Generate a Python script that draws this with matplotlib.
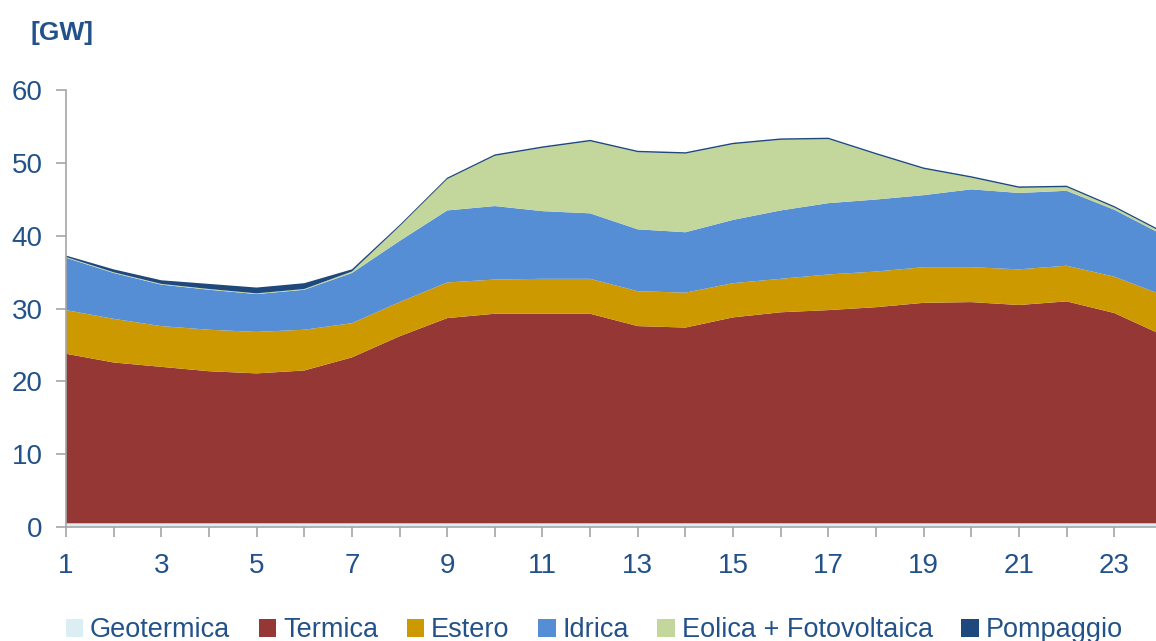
import matplotlib.pyplot as plt
from matplotlib.patches import Patch

# hourly generation by source [GW]
hours = list(range(1, 25))
geotermica = [0.5] * 24
termica = [23.3, 22.1, 21.5, 20.9, 20.6, 21.0, 22.8, 25.7, 28.2, 28.8, 28.8, 28.8,
           27.1, 26.9, 28.3, 29.0, 29.3, 29.7, 30.3, 30.4, 30.0, 30.5, 28.9, 25.9]
estero = [6.0, 6.0, 5.6, 5.7, 5.7, 5.6, 4.7, 4.7, 4.9, 4.7, 4.8, 4.8,
          4.8, 4.8, 4.7, 4.6, 4.9, 4.9, 4.9, 4.8, 4.9, 4.9, 5.0, 5.5]
idrica = [7.2, 6.3, 5.7, 5.5, 5.2, 5.5, 6.9, 8.4, 9.9, 10.1, 9.3, 9.0,
          8.5, 8.3, 8.7, 9.4, 9.8, 9.9, 9.9, 10.7, 10.5, 10.3, 9.2, 8.3]
eolica_fv = [0.1, 0.1, 0.1, 0.1, 0.1, 0.1, 0.2, 2.0, 4.3, 6.9, 8.7, 9.9,
             10.6, 10.8, 10.4, 9.7, 8.8, 6.2, 3.6, 1.6, 0.7, 0.5, 0.3, 0.3]
pompaggio = [0.2, 0.4, 0.5, 0.7, 0.8, 0.8, 0.3, 0.2, 0.2, 0.2, 0.2, 0.2,
             0.2, 0.2, 0.2, 0.2, 0.2, 0.2, 0.2, 0.2, 0.2, 0.2, 0.2, 0.2]

labels = ['Geotermica', 'Termica', 'Estero', 'Idrica', 'Eolica + Fotovoltaica', 'Pompaggio']
colors = ['#DAEEF3', '#953735', '#CC9900', '#558ED5', '#C3D69B', '#1F497D']

text_col = '#23528A'
grey = '#A6A6A6'

plt.rcParams['font.family'] = ['Liberation Sans', 'DejaVu Sans']

fig = plt.figure(figsize=(11.56, 6.41), dpi=100)
ax = fig.add_axes([0.0571, 0.178, 0.948, 0.681])

ax.stackplot(hours, geotermica, termica, estero, idrica, eolica_fv, pompaggio,
             colors=colors, linewidth=0)

ax.set_xlim(1, 24)
ax.set_ylim(0, 60)
ax.set_xticks(hours)
ax.set_xticklabels([str(h) if h % 2 == 1 else '' for h in hours])
ax.set_yticks(range(0, 61, 10))

for s in ['top', 'right']:
    ax.spines[s].set_visible(False)
for s in ['left', 'bottom']:
    ax.spines[s].set_color(grey)
    ax.spines[s].set_linewidth(1.2)

ax.tick_params(axis='x', direction='out', length=7, width=1.2, color=grey,
               labelsize=20, labelcolor=text_col, pad=12)
ax.tick_params(axis='y', direction='out', length=7, width=1.2, color=grey,
               labelsize=20, labelcolor=text_col, pad=10)

fig.text(30 / 1156, 1 - 40 / 641, '[GW]', fontsize=19, fontweight='bold',
         color=text_col, va='baseline')

handles = [Patch(facecolor=c, edgecolor='none') for c in colors]
fig.legend(handles, labels, loc='center', bbox_to_anchor=(0.514, 0.017), ncol=6,
           frameon=False, fontsize=19.5, labelcolor=text_col,
           handlelength=0.65, handleheight=0.65, handletextpad=0.25, columnspacing=1.05)

fig.savefig('out.png', dpi=100)
